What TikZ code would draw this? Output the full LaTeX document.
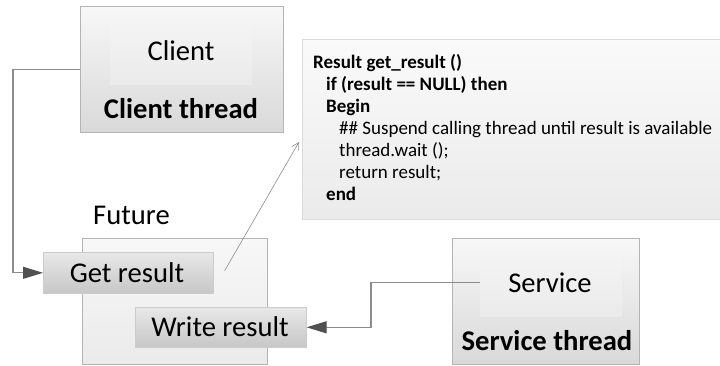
\documentclass[tikz,border=0pt]{standalone}
\usepackage{fontspec}
\setmainfont{Carlito}
\usetikzlibrary{arrows.meta,calc}
\definecolor{bordergray}{HTML}{B4B4B4}
\definecolor{linegray}{HTML}{8C8C8C}
\definecolor{tipgray}{HTML}{505050}
\tikzset{
  outerbox/.style={draw=bordergray, line width=0.9pt, top color=white!97!black, bottom color=white!85!black, anchor=north west, inner sep=0pt},
  innerbox/.style={draw=none, top color=white!96!black, bottom color=white!92!black, anchor=north west, inner sep=0pt},
  futurebox/.style={draw=bordergray, line width=0.9pt, top color=white!97!black, bottom color=white!92!black, anchor=north west, inner sep=0pt},
  opbox/.style={draw=white!80!black, line width=0.6pt, top color=white!91!black, bottom color=white!78!black, anchor=north west, inner sep=0pt},
  codebox/.style={draw=white!86!black, line width=0.7pt, top color=white!98!black, bottom color=white!92!black, anchor=north west, inner sep=0pt},
  bigtxt/.style={font=\fontsize{28.6}{32}\selectfont, inner sep=0pt},
  bigbold/.style={font=\fontsize{28.6}{32}\selectfont\bfseries, inner sep=0pt},
  codetxt/.style={font=\fontsize{19}{22}\selectfont, anchor=base west, inner sep=0pt},
  codebold/.style={font=\fontsize{19}{22}\selectfont\bfseries, anchor=base west, inner sep=0pt},
  conn/.style={draw=linegray, line width=1.1pt, -{Triangle[length=20pt,width=12pt,fill=tipgray,color=tipgray]}},
  thin/.style={draw=white!55!black, line width=0.6pt, -{Straight Barb[length=7pt,width=8pt]}}
}
\begin{document}
\begin{tikzpicture}[x=1pt,y=-1pt]
\useasboundingbox (0,0) rectangle (720,365);
% Client thread
\node[outerbox, minimum width=203pt, minimum height=126pt] (ct) at (80,6) {};
\node[innerbox, minimum width=142pt, minimum height=68pt] (client) at (110,16) {};
\node[bigtxt] (clienttxt) at (181,51) {Client};
\node[bigbold] (cttxt) at (181,109) {Client thread};
% Future
\node[bigtxt, anchor=base west] (futtxt) at (93,224) {Future};
\node[futurebox, minimum width=185pt, minimum height=126pt] (future) at (82,238) {};
\node[opbox, minimum width=170pt, minimum height=41pt] (get) at (43,252) {};
\node[bigtxt] (gettxt) at (127,273) {Get result};
\node[opbox, minimum width=171pt, minimum height=40pt] (write) at (135,307) {};
\node[bigtxt] (writetxt) at (220,327) {Write result};
% Service thread
\node[outerbox, minimum width=187pt, minimum height=126pt] (st) at (452,238) {};
\node[innerbox, minimum width=142pt, minimum height=67pt] (service) at (480,249) {};
\node[bigtxt] (servicetxt) at (550,283) {Service};
\node[bigbold] (sttxt) at (547,341) {Service thread};
% Code box
\node[codebox, minimum width=425pt, minimum height=180pt] (code) at (302,39) {};
\node[codebold] (c1) at (313,68) {Result get\_result ()};
\node[codebold] (c2) at (326,90) {if (result == NULL) then};
\node[codebold] (c3) at (326,112) {Begin};
\node[codetxt] (c4) at (339,134) {\#\# Suspend calling thread until result is available};
\node[codetxt] (c5) at (339,156) {thread.wait ();};
\node[codetxt] (c6) at (339,178) {return result;};
\node[codebold] (c7) at (326,200) {end};
% connectors
\draw[conn] (ct.west) -- ++(-67,0) |- (get.west);
\draw[conn] (service.west) -- ++(-109,0) |- (write.east);
\coordinate (tipend) at (299,142);
\draw[thin] ($(get.east)+(11,-2)$) -- (tipend);
\end{tikzpicture}
\end{document}
